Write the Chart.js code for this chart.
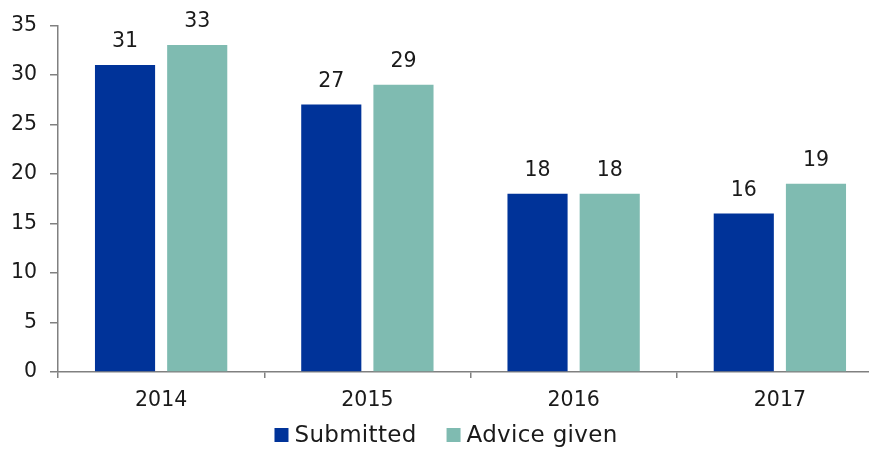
<!DOCTYPE html>
<html lang="en">
<head>
    <meta charset="UTF-8">
    <title>Submitted vs advice given</title>
    <script src="https://cdn.jsdelivr.net/npm/chart.js"></script>
    <style>
        html, body { margin: 0; padding: 0; background: #fff; overflow: hidden; }
        .wrap { position: relative; width: 883px; height: 450px; }
    </style>
</head>
<body>
    <div class="wrap">
        <canvas id="adviceChart"></canvas>
    </div>

    <script>
        // Data
        const years = ['2014', '2015', '2016', '2017'];
        const submitted = [31, 27, 18, 16];
        const adviceGiven = [33, 29, 18, 19];
        const yTicks = [0, 5, 10, 15, 20, 25, 30, 35];

        const axisGrey = '#808080';
        const textColor = '#1a1a1a';
        const fontFamily = '"DejaVu Sans", Verdana, sans-serif';

        // value labels above each bar + legend drawn under the axis
        const barLabels = {
            id: 'barLabels',
            afterDatasetsDraw(chart) {
                const ctx = chart.ctx;
                ctx.save();
                ctx.font = '20.5px ' + fontFamily;
                ctx.fillStyle = textColor;
                ctx.textAlign = 'center';
                ctx.textBaseline = 'middle';
                chart.data.datasets.forEach((ds, i) => {
                    chart.getDatasetMeta(i).data.forEach((bar, j) => {
                        ctx.fillText(ds.data[j], bar.x, bar.y - 23);
                    });
                });
                ctx.restore();
            },
            afterDraw(chart) {
                const ctx = chart.ctx;
                const box = 14, textGap = 6, itemGap = 30, centerX = 446, midY = 435;
                ctx.save();
                ctx.font = '23px ' + fontFamily;
                ctx.letterSpacing = '0.3px';
                const items = chart.data.datasets.map(ds => ({
                    text: ds.label, color: ds.backgroundColor,
                    w: box + textGap + ctx.measureText(ds.label).width
                }));
                const total = items.reduce((s, it) => s + it.w, 0) + itemGap * (items.length - 1);
                let x = centerX - total / 2;
                ctx.textBaseline = 'middle';
                items.forEach(it => {
                    ctx.fillStyle = it.color;
                    ctx.fillRect(x, midY - box / 2, box, box);
                    ctx.fillStyle = textColor;
                    ctx.fillText(it.text, x + box + textGap, midY + 1);
                    x += it.w + itemGap;
                });
                ctx.restore();
            }
        };

        new Chart(document.getElementById('adviceChart'), {
            type: 'bar',
            data: {
                labels: years,
                datasets: [{
                    label: 'Submitted',
                    data: submitted,
                    backgroundColor: '#003399',
                    categoryPercentage: 0.7,
                    barPercentage: 0.833
                }, {
                    label: 'Advice given',
                    data: adviceGiven,
                    backgroundColor: '#7fbbb1',
                    categoryPercentage: 0.7,
                    barPercentage: 0.833
                }]
            },
            options: {
                responsive: true,
                maintainAspectRatio: false,
                animation: false,
                layout: { padding: { top: 23, left: 0, right: 0, bottom: 30 } },
                plugins: {
                    legend: { display: false },
                    tooltip: { enabled: false }
                },
                scales: {
                    x: {
                        grid: {
                            offset: true,
                            drawOnChartArea: false,
                            drawTicks: true,
                            tickLength: 6,
                            color: axisGrey,
                            lineWidth: 1.5
                        },
                        border: { color: axisGrey, width: 1.5 },
                        ticks: {
                            color: textColor,
                            padding: 10,
                            font: { family: fontFamily, size: 20.5 }
                        },
                        afterFit(scale) { scale.height = 48; }
                    },
                    y: {
                        min: 0,
                        max: 35,
                        afterBuildTicks(scale) {
                            scale.ticks = yTicks.map(v => ({ value: v }));
                        },
                        grid: {
                            drawOnChartArea: false,
                            drawTicks: true,
                            tickLength: 8,
                            color: axisGrey,
                            lineWidth: 1.5
                        },
                        border: { color: axisGrey, width: 1.5 },
                        ticks: {
                            color: textColor,
                            padding: 13,
                            font: { family: fontFamily, size: 20.5 }
                        },
                        afterFit(scale) { scale.width = 58; }
                    }
                }
            },
            plugins: [barLabels]
        });
    </script>
</body>
</html>
